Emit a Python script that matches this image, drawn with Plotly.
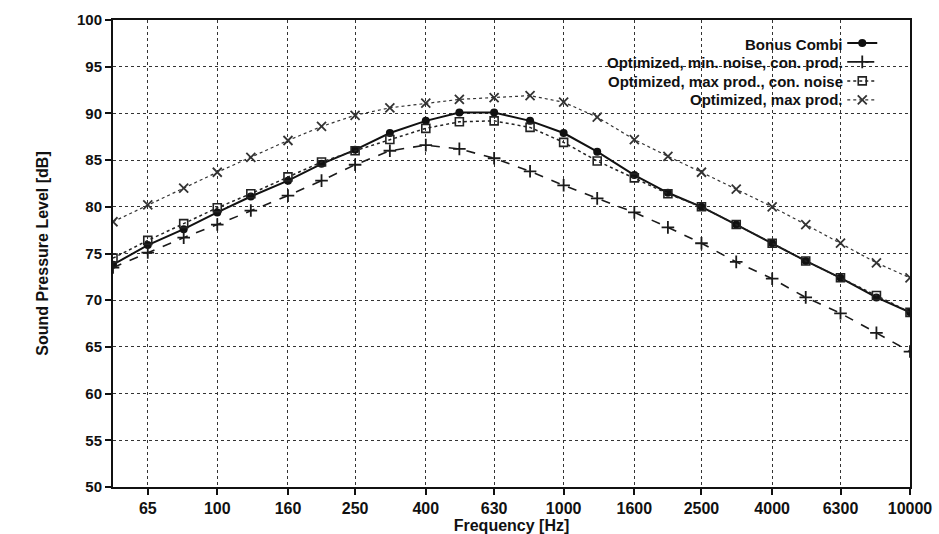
import plotly.graph_objects as go

freqs = [50, 63, 80, 100, 125, 160, 200, 250, 315, 400, 500, 630, 800, 1000,
         1250, 1600, 2000, 2500, 3150, 4000, 5000, 6300, 8000, 10000]

bonus_combi = [73.8, 75.9, 77.6, 79.4, 81.1, 82.8, 84.6, 86.1, 87.9, 89.2, 90.1, 90.1,
               89.2, 87.9, 85.9, 83.4, 81.5, 80.0, 78.1, 76.1, 74.2, 72.4, 70.3, 68.7]
min_noise_con_prod = [73.5, 75.1, 76.7, 78.1, 79.6, 81.2, 82.8, 84.5, 86.0, 86.6, 86.2, 85.2,
                      83.8, 82.3, 80.9, 79.4, 77.8, 76.1, 74.1, 72.3, 70.3, 68.6, 66.5, 64.5]
max_prod_con_noise = [74.5, 76.4, 78.2, 79.9, 81.4, 83.2, 84.8, 86.0, 87.2, 88.4, 89.1, 89.2,
                      88.5, 86.9, 84.9, 83.1, 81.4, 80.0, 78.1, 76.1, 74.2, 72.4, 70.5, 68.7]
max_prod = [78.4, 80.2, 82.0, 83.7, 85.3, 87.1, 88.6, 89.8, 90.6, 91.1, 91.5, 91.7,
            91.9, 91.2, 89.6, 87.2, 85.4, 83.7, 81.9, 80.0, 78.1, 76.1, 74.0, 72.4]

series_names = ["Bonus Combi", "Optimized, min. noise, con. prod.",
                "Optimized, max prod., con. noise", "Optimized, max prod."]

tick_vals = [63, 100, 160, 250, 400, 630, 1000, 1600, 2500, 4000, 6300, 10000]
tick_text = ["65", "100", "160", "250", "400", "630", "1000", "1600", "2500", "4000", "6300", "10000"]

FONT = "Liberation Sans"
INK = "#111111"

styles = [
    dict(line=dict(color="#111111", width=2),
         marker=dict(symbol="circle", size=8, color="#111111")),
    dict(line=dict(color="#1a1a1a", width=1.6, dash="dash"),
         marker=dict(symbol="cross-thin", size=9, color="#1a1a1a", line=dict(width=1.8, color="#1a1a1a"))),
    dict(line=dict(color="#222222", width=1.5, dash="dot"),
         marker=dict(symbol="square-open", size=8, color="#222222", line=dict(width=1.6))),
    dict(line=dict(color="#333333", width=1.2, dash="dot"),
         marker=dict(symbol="x-thin", size=9, color="#333333", line=dict(width=1.8, color="#333333"))),
]
all_series = [bonus_combi, min_noise_con_prod, max_prod_con_noise, max_prod]

fig = go.Figure()
for name, vals, st in zip(series_names, all_series, styles):
    fig.add_trace(go.Scatter(
        x=freqs, y=vals, name="", mode="lines+markers",
        hovertemplate=name + "<br>%{x} Hz: %{y} dB<extra></extra>",
        **st))

# legend labels: right-aligned text placed to the left of the legend glyphs
row_top = 0.948
row_step = 18.5 / 467
annotations = []
for i, name in enumerate(series_names):
    annotations.append(dict(
        text="<b>" + name + "</b>", xref="paper", yref="paper",
        x=0.918, y=row_top - i * row_step, xanchor="right", yanchor="middle",
        showarrow=False, font=dict(family=FONT, size=15, color=INK)))

fig.update_layout(
    width=939, height=534,
    margin=dict(l=113, r=29, t=20, b=47, autoexpand=False),
    paper_bgcolor="white", plot_bgcolor="white",
    font=dict(family=FONT, size=15, color=INK),
    showlegend=True,
    legend=dict(x=0.915, y=0.982, xanchor="left", yanchor="top",
                bgcolor="rgba(255,255,255,0)", font=dict(family=FONT, size=11, color=INK),
                tracegroupgap=0, itemwidth=30, borderwidth=0),
    annotations=annotations,
)
fig.update_xaxes(
    type="log", range=[1.69897, 4.0], automargin=False,
    tickvals=tick_vals, ticktext=tick_text,
    ticks="outside", ticklen=6, tickwidth=1.5, tickcolor=INK,
    showline=True, linecolor=INK, linewidth=2, mirror=True,
    showgrid=True, gridcolor="#333333", griddash="dot", gridwidth=1,
    tickfont=dict(family=FONT, size=16, color=INK, weight="bold"),
    title=dict(text="<b>Frequency [Hz]</b>", font=dict(family=FONT, size=16), standoff=0),
    zeroline=False)
fig.update_yaxes(
    range=[50, 100], dtick=5, automargin=False,
    ticks="outside", ticklen=6, tickwidth=1.5, tickcolor=INK,
    showline=True, linecolor=INK, linewidth=2, mirror=True,
    showgrid=True, gridcolor="#333333", griddash="dot", gridwidth=1,
    tickfont=dict(family=FONT, size=15, color=INK, weight="bold"),
    title=dict(text="<b>Sound Pressure Level [dB]</b>", font=dict(family=FONT, size=16), standoff=24),
    zeroline=False)

fig.write_html("out.html", config={"displayModeBar": False},
               post_script="document.body.style.margin='0';")
